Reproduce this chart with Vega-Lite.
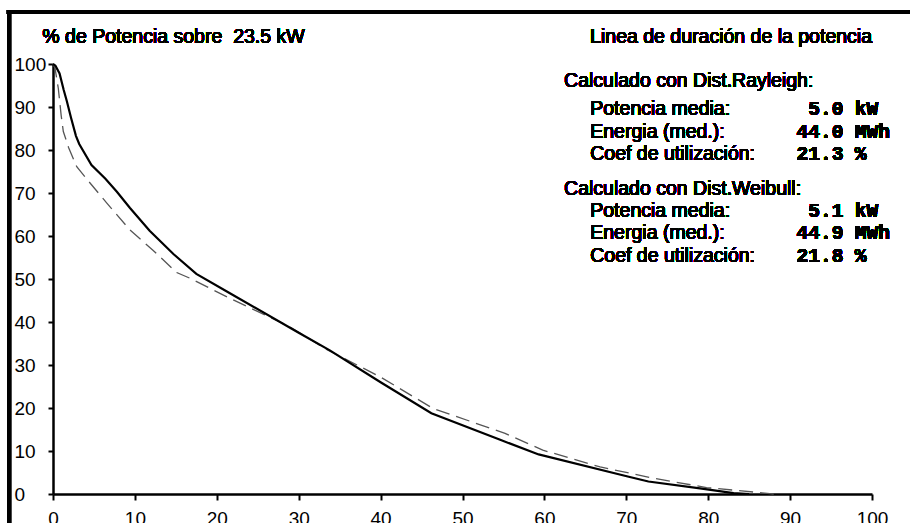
{
  "$schema": "https://vega.github.io/schema/vega-lite/v6.json",
  "width": 819,
  "height": 430,
  "autosize": "none",
  "padding": {"left": 53, "top": 64, "right": 38, "bottom": 29},
  "background": "white",
  "config": {"view": {"stroke": null}, "font": "Liberation Sans", "text": {"fill": "black", "stroke": null, "fontWeight": "normal"}},
  "data": {
    "values": [
      {"dist": "Rayleigh", "t": 0, "p": 100},
      {"dist": "Rayleigh", "t": 0.3, "p": 99.6},
      {"dist": "Rayleigh", "t": 0.8, "p": 97.8},
      {"dist": "Rayleigh", "t": 1.3, "p": 94},
      {"dist": "Rayleigh", "t": 1.7, "p": 91.3},
      {"dist": "Rayleigh", "t": 2.2, "p": 87.5},
      {"dist": "Rayleigh", "t": 2.8, "p": 83.3},
      {"dist": "Rayleigh", "t": 3.2, "p": 81.4},
      {"dist": "Rayleigh", "t": 4.7, "p": 76.5},
      {"dist": "Rayleigh", "t": 6.4, "p": 73.3},
      {"dist": "Rayleigh", "t": 7.8, "p": 70.3},
      {"dist": "Rayleigh", "t": 9.4, "p": 66.5},
      {"dist": "Rayleigh", "t": 11.8, "p": 61.2},
      {"dist": "Rayleigh", "t": 14.7, "p": 55.8},
      {"dist": "Rayleigh", "t": 17.5, "p": 51.2},
      {"dist": "Rayleigh", "t": 21.6, "p": 46.7},
      {"dist": "Rayleigh", "t": 30, "p": 37.5},
      {"dist": "Rayleigh", "t": 33.8, "p": 33.4},
      {"dist": "Rayleigh", "t": 40, "p": 26},
      {"dist": "Rayleigh", "t": 46.2, "p": 18.8},
      {"dist": "Rayleigh", "t": 54.6, "p": 12.6},
      {"dist": "Rayleigh", "t": 59.3, "p": 9.2},
      {"dist": "Rayleigh", "t": 70.3, "p": 4.0},
      {"dist": "Rayleigh", "t": 72.7, "p": 2.9},
      {"dist": "Rayleigh", "t": 79, "p": 1.3},
      {"dist": "Rayleigh", "t": 83.1, "p": 0.2},
      {"dist": "Rayleigh", "t": 85, "p": 0},
      {"dist": "Weibull", "t": 0, "p": 100},
      {"dist": "Weibull", "t": 0.25, "p": 99},
      {"dist": "Weibull", "t": 0.65, "p": 94.3},
      {"dist": "Weibull", "t": 1.0, "p": 88},
      {"dist": "Weibull", "t": 1.26, "p": 84.3},
      {"dist": "Weibull", "t": 1.9, "p": 80.6},
      {"dist": "Weibull", "t": 2.9, "p": 76.1},
      {"dist": "Weibull", "t": 4.4, "p": 72.6},
      {"dist": "Weibull", "t": 6.6, "p": 67.6},
      {"dist": "Weibull", "t": 9.4, "p": 61.4},
      {"dist": "Weibull", "t": 12.2, "p": 56.7},
      {"dist": "Weibull", "t": 15.1, "p": 51.5},
      {"dist": "Weibull", "t": 16.7, "p": 50.2},
      {"dist": "Weibull", "t": 21.6, "p": 45.5},
      {"dist": "Weibull", "t": 28.9, "p": 38.9},
      {"dist": "Weibull", "t": 33.5, "p": 33.5},
      {"dist": "Weibull", "t": 39.9, "p": 27.3},
      {"dist": "Weibull", "t": 46.4, "p": 19.9},
      {"dist": "Weibull", "t": 55.2, "p": 14.1},
      {"dist": "Weibull", "t": 59.8, "p": 10.2},
      {"dist": "Weibull", "t": 66.8, "p": 6.3},
      {"dist": "Weibull", "t": 70.5, "p": 4.8},
      {"dist": "Weibull", "t": 72.9, "p": 3.8},
      {"dist": "Weibull", "t": 79.8, "p": 1.5},
      {"dist": "Weibull", "t": 87.5, "p": 0.1},
      {"dist": "Weibull", "t": 88, "p": 0}
    ]
  },
  "layer": [
    {
      "transform": [{"filter": "datum.dist == 'Weibull'"}],
      "mark": {"type": "line", "color": "#555555", "strokeWidth": 1.3, "strokeDash": [14, 7]},
      "encoding": {
        "x": {
          "field": "t", "type": "quantitative",
          "scale": {"domain": [0, 100], "nice": false, "zero": false},
          "axis": {
            "values": [0, 10, 20, 30, 40, 50, 60, 70, 80, 90, 100],
            "grid": false, "title": null,
            "domainColor": "black", "domainWidth": 2.5,
            "tickColor": "black", "tickWidth": 2, "tickSize": 6,
            "labelFont": "Liberation Sans", "labelFontSize": 19, "labelColor": "black",
            "labelPadding": 9, "labelFlush": false, "labelOverlap": false
          }
        },
        "y": {
          "field": "p", "type": "quantitative",
          "scale": {"domain": [0, 100], "nice": false, "zero": false},
          "axis": {
            "values": [0, 10, 20, 30, 40, 50, 60, 70, 80, 90, 100],
            "grid": false, "title": null,
            "domainColor": "black", "domainWidth": 2.5,
            "tickColor": "black", "tickWidth": 2, "tickSize": 5,
            "labelFont": "Liberation Sans", "labelFontSize": 19, "labelColor": "black",
            "labelAlign": "left", "labelBaseline": "middle", "labelPadding": 34,
            "labelOverlap": false,
            "labelExpr": "datum.value == 0 ? '\u00a0' + datum.label : datum.label"
          }
        }
      }
    },
    {
      "transform": [{"filter": "datum.dist == 'Rayleigh'"}],
      "mark": {"type": "line", "color": "black", "strokeWidth": 2.2},
      "encoding": {
        "x": {"field": "t", "type": "quantitative"},
        "y": {"field": "p", "type": "quantitative"}
      }
    },
    {
      "mark": {"type": "rule", "color": "black", "strokeWidth": 4},
      "encoding": {"x": {"datum": -5.62}, "x2": {"datum": 105.5}, "y": {"datum": 112.1}}
    },
    {
      "mark": {"type": "rule", "color": "black", "strokeWidth": 4},
      "encoding": {"x": {"datum": -5.37}, "y": {"datum": 112.56}, "y2": {"datum": -8.5}}
    },
    {
      "mark": {"type": "text", "text": "% de Potencia sobre\u00a0 23.5 kW", "align": "left", "baseline": "top", "fontSize": 19.5, "fill": "black"},
      "encoding": {"x": {"datum": -1.3}, "y": {"datum": 108.4}}
    },
    {
      "mark": {"type": "text", "text": "Linea de duración de la potencia", "align": "right", "baseline": "top", "fontSize": 19.5, "fill": "black"},
      "encoding": {"x": {"datum": 100}, "y": {"datum": 108.4}}
    },
    {
      "mark": {"type": "text", "text": "Calculado con Dist.Rayleigh:", "align": "left", "baseline": "top", "fontSize": 19.5, "fill": "black"},
      "encoding": {"x": {"datum": 62.4}, "y": {"datum": 98.1}}
    },
    {
      "mark": {"type": "text", "text": ["Potencia media:", "Energia (med.):", "Coef de utilización:"], "lineHeight": 22.5, "align": "left", "baseline": "top", "fontSize": 19.5, "fill": "black"},
      "encoding": {"x": {"datum": 65.6}, "y": {"datum": 91.6}}
    },
    {
      "mark": {"type": "text", "text": ["5.0", "44.0", "21.3"], "lineHeight": 22.5, "align": "right", "baseline": "top", "fontSize": 19.5, "font": "Liberation Mono", "fontWeight": "bold", "fill": "black"},
      "encoding": {"x": {"datum": 96.5}, "y": {"datum": 91.6}}
    },
    {
      "mark": {"type": "text", "text": ["kW", "MWh", "%"], "lineHeight": 22.5, "align": "left", "baseline": "top", "fontSize": 19.5, "font": "Liberation Mono", "fontWeight": "bold", "fill": "black"},
      "encoding": {"x": {"datum": 97.9}, "y": {"datum": 91.6}}
    },
    {
      "mark": {"type": "text", "text": "Calculado con Dist.Weibull:", "align": "left", "baseline": "top", "fontSize": 19.5, "fill": "black"},
      "encoding": {"x": {"datum": 62.4}, "y": {"datum": 73.0}}
    },
    {
      "mark": {"type": "text", "text": ["Potencia media:", "Energia (med.):", "Coef de utilización:"], "lineHeight": 22.5, "align": "left", "baseline": "top", "fontSize": 19.5, "fill": "black"},
      "encoding": {"x": {"datum": 65.6}, "y": {"datum": 68.0}}
    },
    {
      "mark": {"type": "text", "text": ["5.1", "44.9", "21.8"], "lineHeight": 22.5, "align": "right", "baseline": "top", "fontSize": 19.5, "font": "Liberation Mono", "fontWeight": "bold", "fill": "black"},
      "encoding": {"x": {"datum": 96.5}, "y": {"datum": 68.0}}
    },
    {
      "mark": {"type": "text", "text": ["kW", "MWh", "%"], "lineHeight": 22.5, "align": "left", "baseline": "top", "fontSize": 19.5, "font": "Liberation Mono", "fontWeight": "bold", "fill": "black"},
      "encoding": {"x": {"datum": 97.9}, "y": {"datum": 68.0}}
    }
  ]
}
